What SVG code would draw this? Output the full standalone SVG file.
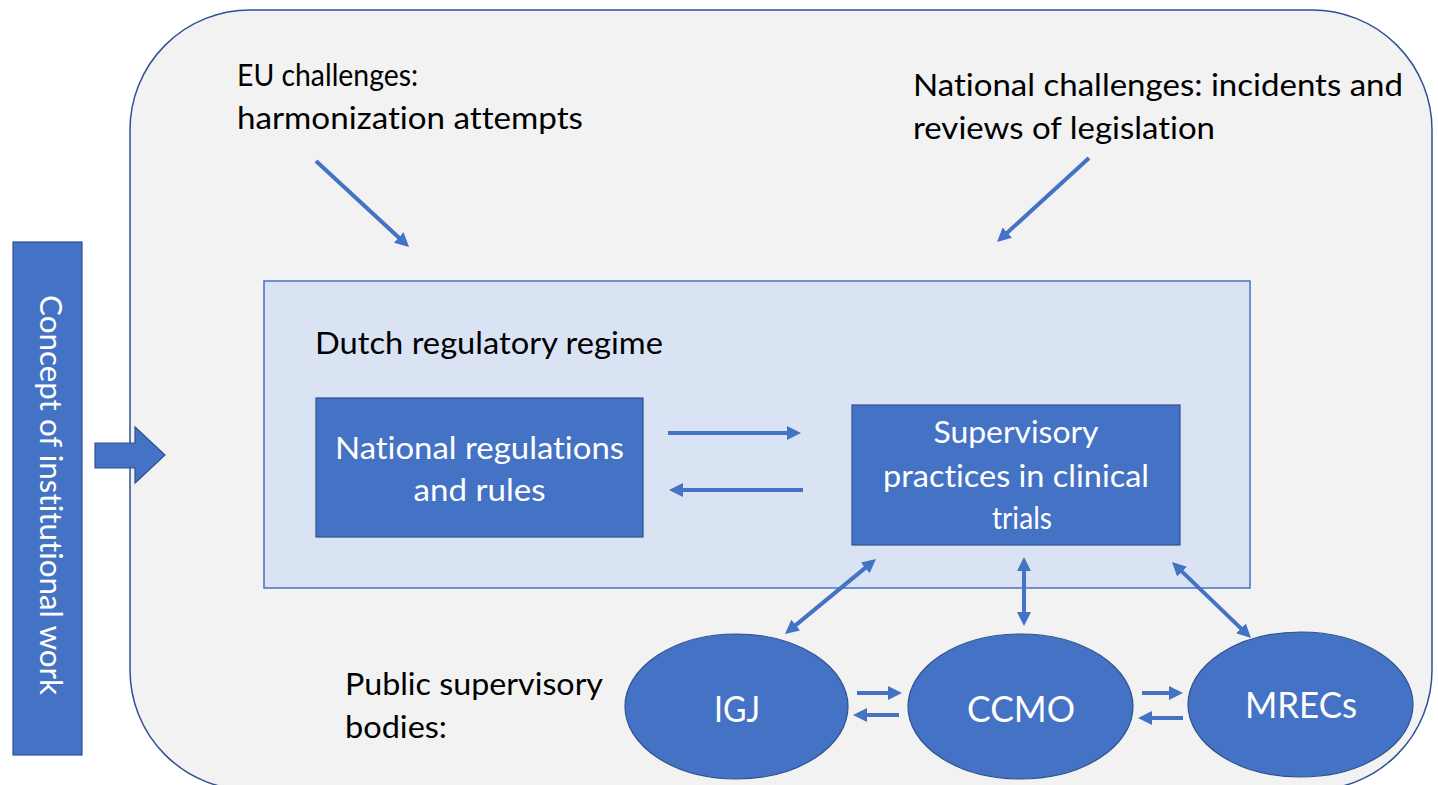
<svg xmlns="http://www.w3.org/2000/svg" width="1438" height="785" viewBox="0 0 1438 785">
  <style>
    .txt { font-family: Lato, "Open Sans", "Liberation Sans", sans-serif; font-size: 31px; fill: #000; font-variant-ligatures: none; }
    .wt { fill: #ffffff; }
    .mid { text-anchor: middle; }
    .blue { fill: #4472C4; stroke: #2F528F; stroke-width: 1.2; }
    .conn { stroke: #4472C4; stroke-width: 4; fill: none; }
  </style>
  <defs>
    <marker id="head" markerUnits="userSpaceOnUse" markerWidth="16" markerHeight="16" refX="4" refY="7" orient="auto-start-reverse">
      <path d="M0,0 L14,7 L0,14 z" fill="#4472C4"/>
    </marker>
  </defs>

  <rect width="1438" height="785" fill="#ffffff"/>

  <!-- outer frame -->
  <g id="frame">
    <rect x="130" y="10" width="1302" height="780" rx="120" ry="120" fill="#F2F2F2" stroke="#2F528F" stroke-width="1.5"/>
  </g>

  <!-- vertical concept bar with block arrow -->
  <g id="concept">
    <rect x="13" y="242" width="69" height="513" class="blue"/>
    <text class="txt wt mid" transform="translate(40,495) rotate(90)" textLength="400" lengthAdjust="spacingAndGlyphs">Concept of institutional work</text>
  </g>
  <g id="concept-arrow">
    <polygon points="95,443 135,443 135,427 165,455 135,483 135,468 95,468" class="blue"/>
  </g>

  <!-- challenge labels -->
  <g id="eu-challenges">
    <text class="txt" x="237" y="86" textLength="181" lengthAdjust="spacingAndGlyphs">EU challenges:</text>
    <text class="txt" x="237" y="129" textLength="346" lengthAdjust="spacingAndGlyphs">harmonization attempts</text>
  </g>
  <g id="national-challenges">
    <text class="txt" x="913" y="96" textLength="490" lengthAdjust="spacingAndGlyphs">National challenges: incidents and</text>
    <text class="txt" x="913" y="139" textLength="302" lengthAdjust="spacingAndGlyphs">reviews of legislation</text>
  </g>

  <!-- regime container -->
  <g id="regime">
    <rect x="264" y="281" width="986" height="307" fill="#DAE3F3" stroke="#4472C4" stroke-width="1.5"/>
    <text class="txt" x="315" y="354" textLength="348" lengthAdjust="spacingAndGlyphs">Dutch regulatory regime</text>
  </g>

  <g id="national-regulations">
    <rect x="316" y="398" width="327" height="139" class="blue"/>
    <text class="txt wt mid" x="479.5" y="459" textLength="289" lengthAdjust="spacingAndGlyphs">National regulations</text>
    <text class="txt wt mid" x="479.5" y="501" textLength="132" lengthAdjust="spacingAndGlyphs">and rules</text>
  </g>

  <g id="supervisory-practices">
    <rect x="852" y="405" width="328" height="140" class="blue"/>
    <text class="txt wt mid" x="1016" y="443" textLength="165" lengthAdjust="spacingAndGlyphs">Supervisory</text>
    <text class="txt wt mid" x="1016" y="487" textLength="266" lengthAdjust="spacingAndGlyphs">practices in clinical</text>
    <text class="txt wt mid" x="1022" y="529" textLength="60" lengthAdjust="spacingAndGlyphs">trials</text>
  </g>

  <g id="public-bodies-label">
    <text class="txt" x="345" y="695" textLength="258" lengthAdjust="spacingAndGlyphs">Public supervisory</text>
    <text class="txt" x="345" y="738" textLength="102" lengthAdjust="spacingAndGlyphs">bodies:</text>
  </g>

  <g id="igj">
    <ellipse cx="736.5" cy="706.5" rx="111.5" ry="72.5" class="blue"/>
    <text class="txt wt mid" x="737" y="722" style="font-size:36px" textLength="46" lengthAdjust="spacingAndGlyphs">IGJ</text>
  </g>
  <g id="ccmo">
    <ellipse cx="1020.5" cy="706.5" rx="112.5" ry="72.5" class="blue"/>
    <text class="txt wt mid" x="1021" y="722" style="font-size:36px" textLength="108" lengthAdjust="spacingAndGlyphs">CCMO</text>
  </g>
  <g id="mrecs">
    <ellipse cx="1300.5" cy="704.5" rx="112.5" ry="72.5" class="blue"/>
    <text class="txt wt mid" x="1301" y="718" style="font-size:36px" textLength="112" lengthAdjust="spacingAndGlyphs">MRECs</text>
  </g>

  <!-- connectors -->
  <g id="connectors">
    <line class="conn" x1="316" y1="161" x2="401.7" y2="240.2" marker-end="url(#head)"/>
    <line class="conn" x1="1089" y1="158" x2="1004.4" y2="235.3" marker-end="url(#head)"/>
    <line class="conn" x1="668" y1="433" x2="791" y2="433" marker-end="url(#head)"/>
    <line class="conn" x1="803" y1="490" x2="679" y2="490" marker-end="url(#head)"/>
    <line class="conn" x1="792.7" y1="627.6" x2="868.3" y2="565.4" marker-start="url(#head)" marker-end="url(#head)"/>
    <line class="conn" x1="1024" y1="567" x2="1024" y2="616" marker-start="url(#head)" marker-end="url(#head)"/>
    <line class="conn" x1="1179.2" y1="568.9" x2="1243.8" y2="631.1" marker-start="url(#head)" marker-end="url(#head)"/>
    <line class="conn" x1="857" y1="693" x2="892" y2="693" marker-end="url(#head)"/>
    <line class="conn" x1="899" y1="715" x2="863" y2="715" marker-end="url(#head)"/>
    <line class="conn" x1="1142" y1="693" x2="1173" y2="693" marker-end="url(#head)"/>
    <line class="conn" x1="1183" y1="718" x2="1148" y2="718" marker-end="url(#head)"/>
  </g>
</svg>
